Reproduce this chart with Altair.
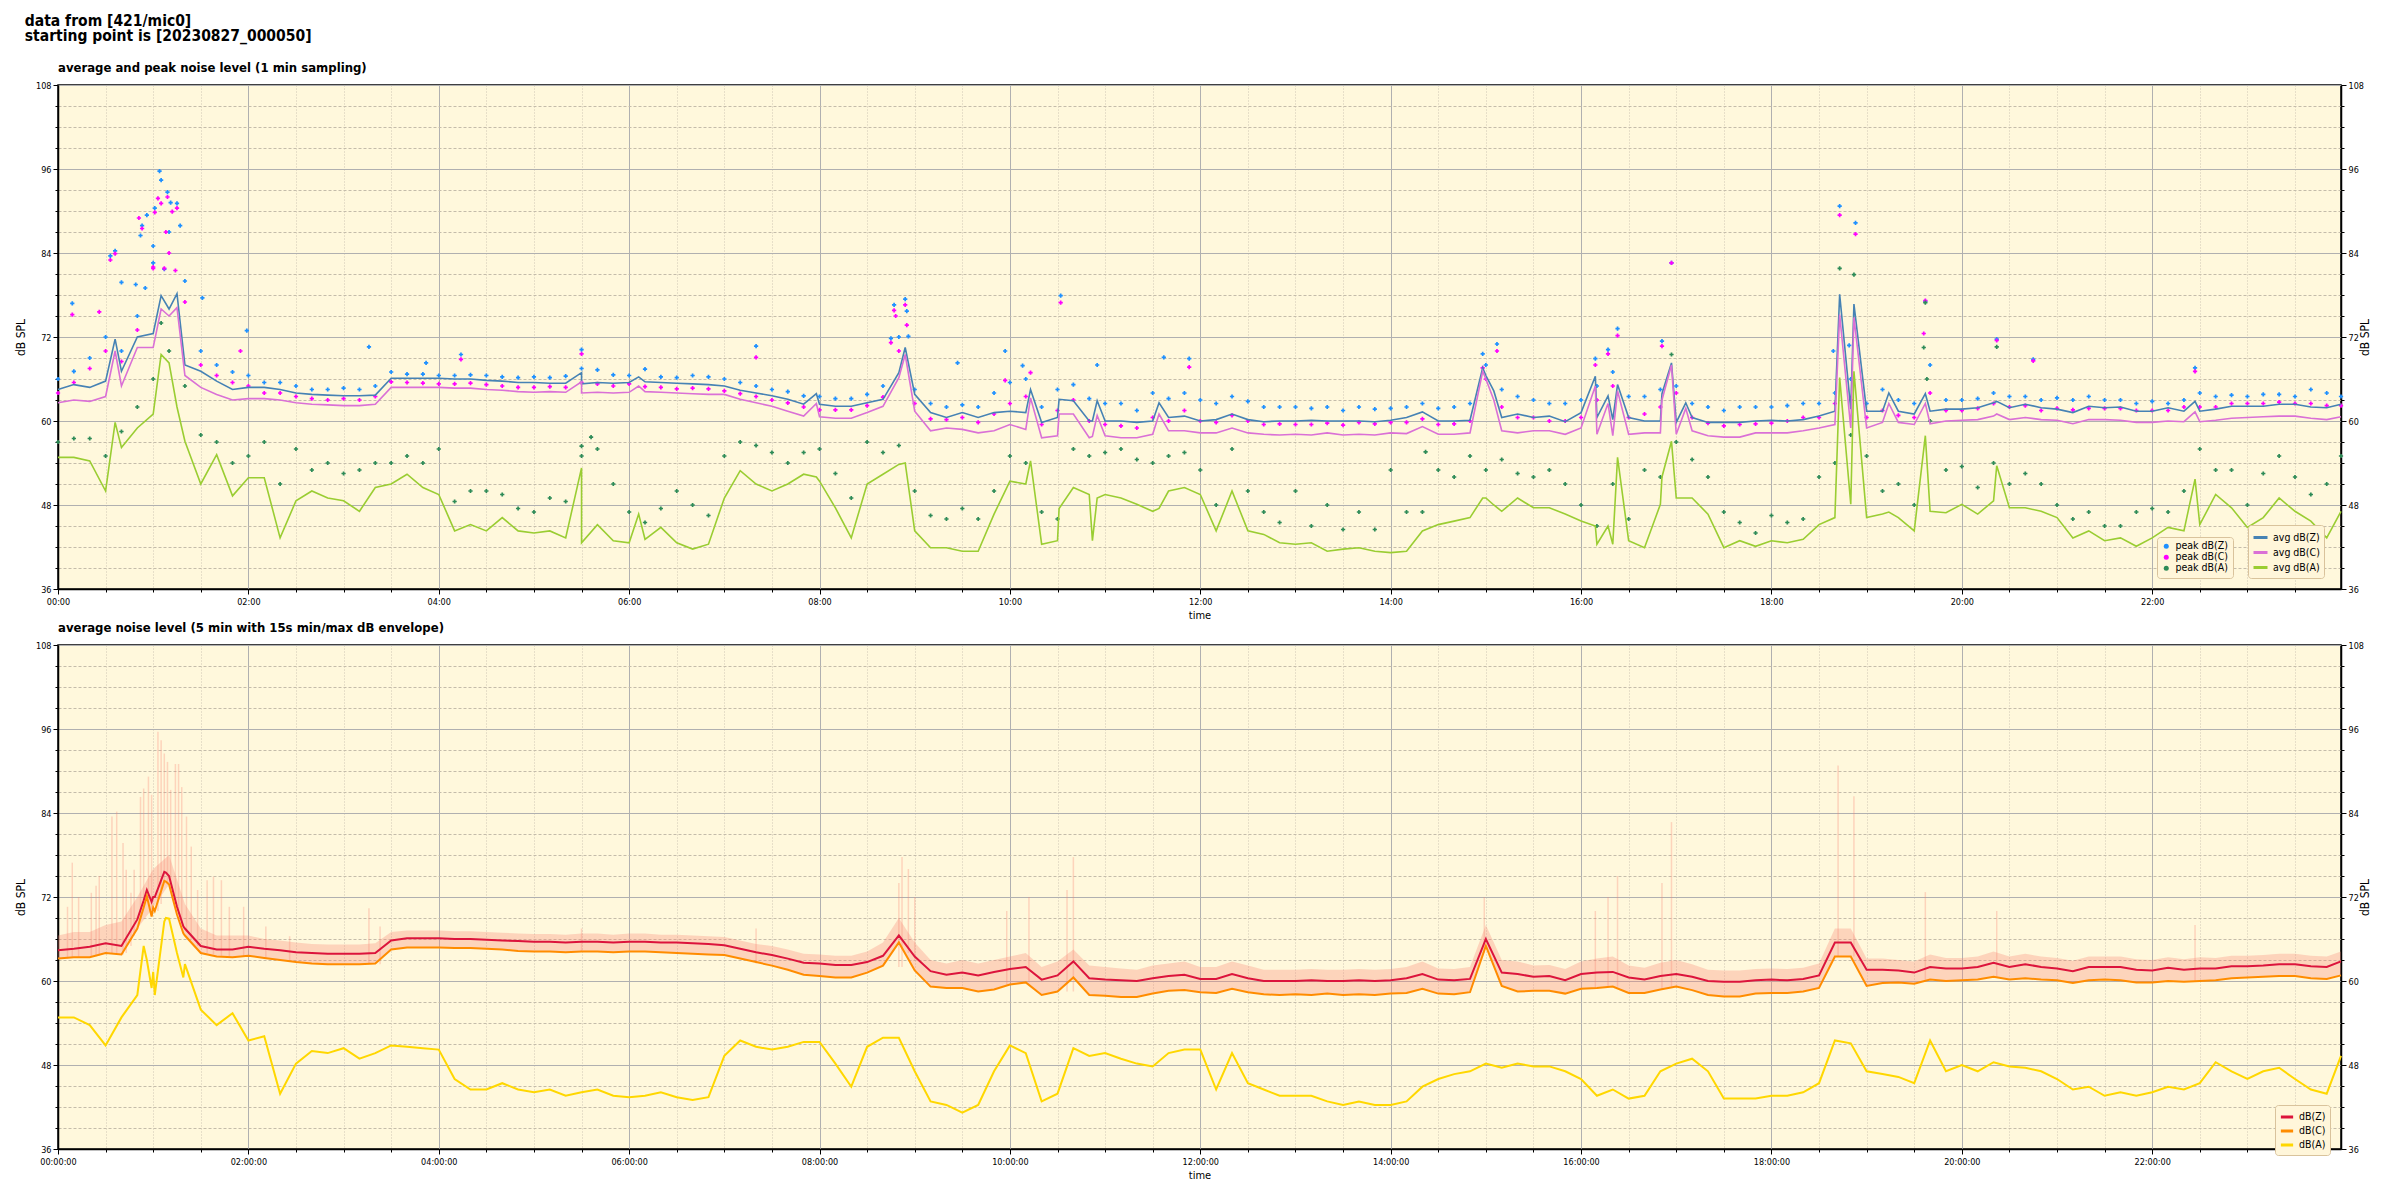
import altair as alt
import pandas as pd

FONT = "Liberation Sans Narrow, DejaVu Sans Condensed, DejaVu Sans, sans-serif"
BG = "#FFF8DC"

# ---------------- sample times (minutes after 00:00) ----------------
grid_min = list(range(0, 1440, 10)) + [1439]

# ---------------- top panel: 1-min averages (read every 10 min) ----------------
avg_z = [
    64.5, 65.2, 64.8, 65.7, 67.1, 72.0, 72.5, 76.0, 68.0, 67.1, 65.7, 64.5,
    64.8, 64.8, 64.5, 64.0, 63.8, 63.7, 63.6, 63.6, 63.7, 66.1, 66.1, 66.1,
    66.1, 66.0, 66.0, 65.8, 65.7, 65.5, 65.5, 65.4, 65.4, 65.3, 65.5, 65.4,
    65.5, 65.6, 65.5, 65.4, 65.3, 65.2, 65.0, 64.4, 64.0, 63.6, 63.1, 62.4,
    62.4, 62.1, 62.1, 62.6, 63.1, 66.9, 63.8, 61.2, 60.5, 61.2, 60.5, 61.2,
    61.4, 61.2, 59.8, 60.5, 62.9, 60.0, 60.0, 60.0, 59.8, 60.0, 60.5, 60.7,
    60.0, 60.2, 61.0, 60.2, 59.9, 60.0, 60.0, 60.1, 60.0, 60.0, 60.0, 59.9,
    60.1, 60.5, 61.3, 60.0, 60.0, 60.1, 66.5, 60.5, 61.0, 60.5, 60.7, 59.9,
    61.2, 60.5, 60.2, 60.5, 60.0, 60.0, 59.8, 60.5, 59.8, 59.8, 59.8, 60.0,
    60.1, 60.0, 60.2, 60.7, 61.4, 61.7, 61.4, 61.4, 61.4, 61.0, 61.4, 61.7,
    61.7, 61.9, 62.6, 61.9, 62.4, 61.9, 61.7, 61.2, 62.1, 61.9, 62.0, 61.4,
    61.4, 61.9, 61.4, 61.4, 61.7, 62.1, 62.1, 62.1, 62.4, 62.4, 62.0, 61.9,
    62.4]
avg_c = [
    62.6, 63.0, 62.8, 63.5, 65.0, 70.5, 70.5, 75.0, 66.5, 64.8, 63.8, 63.0,
    63.2, 63.2, 63.0, 62.6, 62.4, 62.3, 62.2, 62.2, 62.4, 64.8, 64.8, 64.8,
    64.8, 64.7, 64.7, 64.5, 64.4, 64.2, 64.1, 64.2, 64.1, 64.0, 64.1, 64.0,
    64.1, 64.2, 64.1, 64.0, 63.9, 63.8, 63.8, 63.1, 62.6, 62.1, 61.4, 60.7,
    60.6, 60.4, 60.4, 61.2, 62.1, 66.2, 61.4, 58.6, 59.0, 58.8, 58.3, 58.6,
    59.5, 58.8, 57.6, 57.9, 61.0, 57.6, 57.9, 57.6, 57.6, 58.1, 58.6, 58.6,
    58.3, 58.3, 59.0, 58.3, 58.1, 58.0, 58.1, 58.0, 58.3, 58.0, 58.1, 58.0,
    58.3, 58.2, 59.2, 58.1, 58.1, 58.3, 66.0, 58.6, 58.3, 58.6, 58.6, 58.1,
    59.0, 58.1, 57.9, 58.1, 58.3, 58.3, 58.1, 58.6, 57.9, 57.7, 57.7, 58.3,
    58.3, 58.3, 58.6, 59.0, 59.5, 59.0, 59.0, 59.8, 59.8, 59.5, 59.6, 60.0,
    60.1, 60.2, 60.7, 60.2, 60.5, 60.2, 60.1, 59.6, 60.2, 60.2, 60.1, 59.8,
    59.8, 60.0, 59.9, 59.9, 60.1, 60.4, 60.5, 60.6, 60.7, 60.7, 60.4, 60.2,
    60.6]
avg_a = [
    54.8, 54.8, 54.3, 50.0, 56.2, 59.0, 61.0, 68.3, 57.1, 51.0, 55.2, 49.3,
    51.9, 51.9, 43.3, 48.6, 50.0, 49.0, 48.6, 47.1, 50.5, 51.0, 52.4, 50.5,
    49.5, 44.3, 45.2, 44.3, 46.2, 44.3, 44.0, 44.3, 43.3, 42.6, 45.2, 42.9,
    42.6, 43.1, 44.8, 42.6, 41.7, 42.4, 49.0, 52.9, 51.0, 50.0, 51.0, 52.4,
    51.4, 47.6, 43.3, 51.0, 52.4, 53.8, 44.3, 41.9, 41.9, 41.4, 41.4, 46.7,
    51.4, 51.0, 42.4, 42.9, 50.5, 49.5, 49.5, 49.0, 48.1, 47.1, 50.0, 50.5,
    49.5, 44.3, 50.0, 44.3, 43.8, 42.6, 42.4, 42.6, 41.4, 41.7, 41.9, 41.4,
    41.2, 41.4, 44.3, 45.2, 45.7, 46.2, 49.0, 47.1, 49.0, 47.6, 47.6, 46.7,
    45.7, 42.4, 42.4, 42.9, 41.9, 48.1, 49.0, 49.0, 46.7, 41.9, 42.9, 42.1,
    42.9, 42.6, 43.1, 45.2, 46.2, 48.1, 46.2, 46.7, 46.2, 44.3, 47.1, 46.9,
    48.1, 46.7, 48.6, 47.6, 47.6, 47.1, 46.2, 43.3, 44.3, 42.9, 43.3, 42.1,
    43.3, 44.8, 44.3, 45.2, 49.5, 47.6, 44.8, 46.2, 49.0, 47.1, 45.7, 43.3,
    47.1]

# short spikes between the 10-min readings (minute, Z, C, A)
spike_min = [36, 65, 75, 330, 366, 478, 534, 613, 631, 652, 655, 694, 898, 905,
             969, 977, 983, 1011, 1017, 1026, 1123, 1132, 1154, 1177, 1222, 1347]
spike_z = [71.7, 77.9, 78.2, 66.9, 66.3, 63.9, 70.5, 64.5, 63.1, 60.0, 62.9, 62.6, 67.6, 64.3,
           66.4, 63.6, 65.2, 63.9, 68.3, 62.6, 78.1, 76.7, 64.0, 63.9, 62.8, 62.8]
spike_c = [70.0, 76.0, 76.2, 65.6, 65.0, 62.5, 69.5, 63.3, 61.0, 57.8, 60.8, 61.0, 67.1, 63.0,
           65.0, 62.5, 64.3, 63.0, 68.0, 61.8, 75.2, 74.8, 62.5, 62.5, 61.0, 61.3]
spike_a = [59.8, 69.5, 62.0, 53.3, 46.7, 52.0, 54.0, 54.3, 47.5, 42.9, 49.0, 47.5, 49.0, 48.0,
           45.0, 45.0, 54.8, 52.0, 57.1, 49.0, 66.2, 67.1, 47.0, 57.9, 53.6, 51.7]

# 1-min peaks (read every 10 min) plus the outlying dots
peak_z = [
    66.0, 67.1, 69.0, 72.0, 70.0, 75.0, 85.0, 87.0, 80.0, 70.0, 68.0, 67.0,
    66.5, 65.5, 65.5, 65.0, 64.5, 64.5, 64.7, 64.5, 65.0, 67.0, 66.7, 66.7,
    66.5, 66.5, 66.6, 66.5, 66.3, 66.2, 66.3, 66.2, 66.4, 67.5, 67.3, 66.6,
    66.5, 67.4, 66.3, 66.2, 66.5, 66.3, 66.0, 65.5, 65.0, 64.5, 64.2, 63.6,
    63.5, 63.2, 63.2, 63.8, 65.0, 72.0, 64.5, 62.5, 62.0, 62.3, 62.0, 64.0,
    65.5, 66.0, 62.0, 64.5, 65.2, 63.2, 62.5, 62.5, 61.5, 64.0, 63.2, 64.0,
    63.0, 62.5, 63.5, 62.8, 62.0, 62.0, 62.0, 61.8, 62.0, 61.5, 62.0, 61.7,
    61.8, 62.0, 62.5, 61.8, 62.0, 62.5, 68.0, 64.5, 63.5, 63.0, 62.5, 62.5,
    63.0, 65.0, 67.0, 63.5, 63.5, 64.5, 65.0, 62.5, 62.0, 61.5, 62.0, 62.0,
    62.0, 62.2, 62.5, 62.5, 64.0, 66.0, 62.5, 64.5, 63.0, 62.5, 68.0, 63.0,
    63.0, 63.2, 64.0, 63.5, 63.5, 63.0, 63.3, 63.0, 63.5, 63.0, 63.0, 62.5,
    62.8, 62.5, 63.0, 64.0, 63.5, 63.7, 63.5, 63.8, 63.8, 63.5, 64.5, 64.0,
    63.5]
peak_c = [
    64.0, 65.5, 67.5, 70.0, 68.5, 73.0, 82.0, 84.0, 77.0, 68.0, 66.5, 65.5,
    65.0, 64.0, 64.0, 63.5, 63.2, 63.0, 63.2, 63.0, 63.5, 65.6, 65.5, 65.4,
    65.3, 65.3, 65.4, 65.2, 65.0, 64.8, 64.8, 64.9, 64.8, 65.5, 65.3, 65.0,
    65.3, 64.9, 64.8, 64.6, 64.7, 64.6, 64.3, 63.9, 63.5, 63.0, 62.6, 62.0,
    61.6, 61.6, 61.6, 62.2, 63.4, 70.0, 62.5, 60.3, 60.2, 60.5, 59.8, 61.0,
    62.5, 63.5, 59.5, 61.5, 63.0, 60.0, 59.5, 59.3, 59.0, 60.5, 60.0, 61.5,
    60.0, 59.8, 60.8, 60.0, 59.5, 59.6, 59.5, 59.5, 59.7, 59.4, 59.8, 59.6,
    59.8, 59.8, 60.3, 59.5, 59.6, 60.0, 66.0, 62.0, 60.5, 60.5, 60.0, 60.0,
    60.5, 63.0, 65.0, 60.5, 61.0, 62.0, 64.0, 60.5, 59.7, 59.3, 59.5, 59.6,
    59.7, 60.0, 60.5, 60.5, 62.5, 63.0, 60.5, 61.5, 60.8, 60.5, 64.0, 61.5,
    61.5, 61.8, 62.5, 62.0, 62.2, 61.5, 61.8, 61.6, 61.8, 61.8, 61.8, 61.5,
    61.5, 61.5, 62.0, 62.0, 62.0, 62.5, 62.5, 62.5, 62.7, 62.5, 62.5, 62.2,
    62.2]
peak_a = [
    57.0, 57.5, 57.5, 55.0, 58.5, 62.0, 66.0, 70.0, 65.0, 58.0, 57.0, 54.0,
    55.0, 57.0, 51.0, 56.0, 53.0, 54.0, 52.5, 53.0, 54.0, 54.0, 55.0, 54.0,
    56.0, 48.5, 50.0, 50.0, 49.5, 47.5, 47.0, 49.0, 48.5, 55.0, 56.0, 51.0,
    47.0, 45.5, 47.5, 50.0, 48.0, 46.5, 55.0, 57.0, 56.5, 55.5, 54.0, 55.5,
    56.0, 52.5, 49.0, 57.0, 55.5, 56.5, 50.0, 46.5, 46.0, 47.5, 46.0, 50.0,
    55.0, 54.0, 47.0, 46.0, 56.0, 55.0, 55.5, 56.0, 54.5, 54.0, 55.0, 55.5,
    53.0, 48.0, 56.0, 50.0, 47.0, 45.5, 50.0, 45.0, 48.0, 44.5, 47.0, 44.5,
    53.0, 47.0, 47.0, 53.0, 52.0, 55.0, 53.0, 54.5, 52.5, 52.0, 53.0, 51.0,
    48.0, 45.0, 51.0, 46.0, 53.0, 52.0, 57.0, 54.5, 52.0, 47.0, 45.5, 44.0,
    46.5, 45.5, 46.0, 52.0, 54.0, 58.0, 55.0, 50.0, 51.0, 48.0, 60.0, 53.0,
    53.5, 50.5, 54.0, 51.0, 52.5, 51.0, 48.0, 46.0, 47.0, 45.0, 45.0, 47.0,
    47.5, 47.0, 50.0, 56.0, 53.0, 53.0, 48.0, 52.5, 55.0, 52.0, 49.5, 51.0,
    55.0]
pz_out_min = [9, 64, 65, 69, 61, 71, 75, 56, 53, 77, 52, 36, 33, 60, 67, 40, 49, 55, 91, 119,
              196, 254, 232, 330, 440, 527, 534, 535, 536, 525, 567, 597, 608, 632, 655, 697,
              713, 898, 907, 969, 977, 983, 1011, 1017, 1119, 1123, 1133, 1129, 1177, 1222,
              1245, 1347]
pz_out_val = [76.8, 95.7, 94.4, 92.7, 90.4, 91.2, 91.1, 89.4, 87.9, 87.9, 86.5, 84.3, 83.6, 82.6,
              81.7, 79.8, 79.5, 79.0, 77.6, 72.9, 70.6, 69.5, 68.3, 70.2, 70.7, 76.6, 77.4, 75.7,
              72.1, 71.8, 68.3, 70.0, 67.9, 77.9, 68.0, 69.1, 68.9, 69.6, 71.0, 68.9, 70.2, 73.2,
              71.4, 82.6, 70.0, 90.7, 88.3, 70.8, 77.1, 71.7, 68.8, 67.6]
pc_out_min = [9, 26, 63, 65, 69, 61, 72, 75, 53, 51, 33, 36, 60, 67, 74, 68, 115, 254, 330, 440,
              527, 534, 528, 535, 525, 597, 613, 632, 713, 898, 907, 969, 977, 983, 1011, 1017,
              1123, 1133, 1177, 1176, 1222, 1245, 1347]
pc_out_val = [75.2, 75.6, 91.8, 91.1, 92.0, 89.8, 89.9, 90.4, 87.5, 89.0, 83.0, 83.9, 81.8, 81.8,
              81.5, 87.0, 70.0, 68.8, 69.6, 69.1, 75.8, 76.6, 75.0, 73.7, 71.2, 65.8, 66.9, 76.9,
              67.7, 67.6, 70.0, 68.0, 69.6, 72.2, 70.7, 82.6, 89.4, 86.7, 77.2, 72.5, 71.5, 68.6,
              67.1]
pa_out_min = [65, 330, 336, 862, 1017, 1123, 1132, 1177, 1176, 1178, 1222]
pa_out_val = [74.0, 56.4, 57.7, 55.6, 69.5, 81.8, 80.9, 76.9, 70.5, 66.0, 70.6]

# ---------------- bottom panel: 5-min averages (read every 10 min) ----------------
bot_z = [
    64.4, 64.6, 64.9, 65.4, 65.0, 68.8, 72.0, 75.0, 67.5, 65.0, 64.5, 64.5,
    64.9, 64.6, 64.4, 64.1, 64.0, 63.9, 63.9, 63.9, 64.0, 65.8, 66.1, 66.1,
    66.1, 66.0, 66.0, 65.9, 65.8, 65.7, 65.6, 65.6, 65.5, 65.6, 65.6, 65.5,
    65.6, 65.6, 65.5, 65.5, 65.4, 65.3, 65.1, 64.6, 64.1, 63.7, 63.2, 62.6,
    62.5, 62.3, 62.3, 62.7, 63.6, 66.5, 63.5, 61.4, 60.9, 61.2, 60.8, 61.3,
    61.7, 62.0, 60.2, 60.8, 62.8, 60.4, 60.2, 60.1, 60.0, 60.4, 60.7, 60.9,
    60.3, 60.3, 61.0, 60.4, 60.0, 60.0, 60.0, 60.1, 60.0, 60.0, 60.1, 60.0,
    60.1, 60.4, 61.0, 60.2, 60.1, 60.3, 66.0, 61.2, 61.0, 60.6, 60.7, 60.1,
    61.0, 61.2, 61.3, 60.5, 60.2, 60.7, 61.0, 60.6, 60.0, 59.9, 59.9, 60.1,
    60.2, 60.1, 60.3, 60.8, 65.5, 65.5, 61.6, 61.6, 61.5, 61.2, 62.0, 61.8,
    61.8, 62.0, 62.6, 62.0, 62.4, 62.0, 61.8, 61.4, 62.0, 62.0, 62.0, 61.6,
    61.5, 61.9, 61.6, 61.8, 61.8, 62.1, 62.1, 62.2, 62.4, 62.4, 62.1, 62.0,
    62.8]
bot_c = [
    63.2, 63.4, 63.4, 64.0, 63.8, 67.5, 70.5, 73.8, 66.5, 64.0, 63.5, 63.4,
    63.6, 63.3, 63.0, 62.7, 62.5, 62.4, 62.4, 62.4, 62.5, 64.5, 64.8, 64.8,
    64.8, 64.7, 64.7, 64.6, 64.5, 64.3, 64.2, 64.2, 64.1, 64.2, 64.2, 64.1,
    64.2, 64.2, 64.1, 64.0, 63.9, 63.8, 63.7, 63.2, 62.7, 62.2, 61.6, 60.9,
    60.7, 60.5, 60.5, 61.2, 62.2, 65.5, 61.5, 59.2, 59.0, 59.0, 58.5, 58.8,
    59.5, 59.8, 58.0, 58.5, 60.5, 58.0, 57.9, 57.7, 57.7, 58.2, 58.6, 58.7,
    58.4, 58.3, 58.9, 58.4, 58.1, 58.0, 58.1, 58.0, 58.2, 58.0, 58.1, 58.0,
    58.2, 58.3, 58.9, 58.2, 58.1, 58.4, 65.0, 59.3, 58.5, 58.6, 58.6, 58.2,
    58.9, 59.0, 59.2, 58.3, 58.3, 58.8, 59.2, 58.7, 58.0, 57.8, 57.8, 58.2,
    58.3, 58.3, 58.5, 59.0, 63.5, 63.5, 59.3, 59.7, 59.8, 59.6, 60.2, 60.0,
    60.1, 60.2, 60.6, 60.2, 60.4, 60.2, 60.1, 59.7, 60.1, 60.2, 60.1, 59.8,
    59.8, 60.0, 59.9, 60.0, 60.1, 60.4, 60.5, 60.6, 60.7, 60.7, 60.4, 60.3,
    60.8]
bot_a = [
    54.8, 54.8, 53.7, 50.8, 54.8, 58.0, 61.3, 68.9, 62.4, 55.9, 53.7, 55.4,
    51.5, 52.1, 43.9, 48.2, 50.0, 49.7, 50.4, 48.9, 49.7, 50.8, 50.6, 50.4,
    50.2, 46.0, 44.5, 44.5, 45.4, 44.5, 44.1, 44.5, 43.6, 44.1, 44.5, 43.6,
    43.4, 43.6, 44.1, 43.4, 43.0, 43.4, 49.3, 51.5, 50.6, 50.2, 50.6, 51.3,
    51.3, 48.2, 44.9, 50.6, 51.9, 51.9, 47.1, 42.8, 42.3, 41.2, 42.3, 47.1,
    50.8, 49.7, 42.8, 43.9, 50.4, 49.3, 49.7, 48.9, 48.2, 47.8, 49.7, 50.2,
    50.2, 44.5, 49.7, 45.4, 44.5, 43.6, 43.6, 43.6, 42.8, 42.3, 42.8, 42.3,
    42.3, 42.8, 44.9, 46.0, 46.7, 47.1, 48.2, 47.6, 48.2, 47.8, 47.8, 47.1,
    46.0, 43.6, 44.5, 43.2, 43.6, 47.1, 48.2, 48.9, 47.1, 43.2, 43.2, 43.2,
    43.6, 43.6, 44.1, 45.4, 51.5, 51.1, 47.1, 46.7, 46.3, 45.4, 51.5, 47.1,
    48.0, 47.1, 48.4, 47.8, 47.6, 47.1, 46.0, 44.5, 44.9, 43.6, 44.1, 43.6,
    44.1, 44.9, 44.5, 45.4, 48.4, 47.1, 46.0, 47.1, 47.6, 46.0, 44.5, 43.9,
    49.3]
bx_min = [54, 56, 59, 61, 67, 68, 75, 79]
bx_z = [71.5, 73.0, 71.3, 72.0, 75.6, 75.5, 70.6, 67.8]
bx_c = [70.5, 72.1, 69.2, 70.0, 74.3, 74.2, 69.5, 66.8]
bx_a = [65.0, 63.0, 59.0, 58.0, 68.5, 69.0, 64.0, 60.5]

# upper edge of the 15 s min/max envelope (lower edge follows dB(C))
env_hi = [
    66.5, 67.0, 67.0, 68.0, 68.5, 72.0, 76.0, 78.0, 71.0, 67.5, 66.5, 66.5,
    66.5, 66.0, 65.8, 65.5, 65.3, 65.2, 65.2, 65.2, 65.4, 67.0, 67.2, 67.2,
    67.2, 67.1, 67.1, 67.0, 66.9, 66.8, 66.7, 66.7, 66.6, 66.8, 66.8, 66.6,
    66.8, 66.8, 66.6, 66.6, 66.5, 66.4, 66.3, 65.8, 65.3, 65.0, 64.5, 63.9,
    63.8, 63.6, 63.6, 64.2, 65.5, 69.0, 65.5, 63.0, 62.5, 63.0, 62.5, 63.0,
    63.5, 64.0, 62.0, 62.8, 64.5, 62.2, 62.0, 61.8, 61.6, 62.2, 62.5, 62.8,
    62.0, 62.0, 62.8, 62.2, 61.6, 61.6, 61.6, 61.7, 61.6, 61.6, 61.7, 61.6,
    61.7, 62.0, 62.8, 61.8, 61.7, 62.0, 68.0, 63.0, 62.8, 62.2, 62.3, 61.7,
    62.8, 63.2, 63.5, 62.2, 61.9, 62.6, 63.0, 62.4, 61.6, 61.5, 61.5, 61.7,
    61.8, 61.7, 61.9, 62.5, 67.5, 67.5, 63.2, 63.2, 63.0, 62.8, 63.8, 63.3,
    63.3, 63.5, 64.2, 63.5, 63.9, 63.5, 63.3, 62.9, 63.5, 63.5, 63.5, 63.1,
    63.0, 63.4, 63.1, 63.4, 63.3, 63.6, 63.6, 63.7, 63.9, 63.9, 63.6, 63.5,
    64.2]
env_sp_min = [6, 9, 13, 21, 24, 26, 34, 37, 41, 43, 46, 48, 52, 54, 57, 59, 63, 65, 67, 69, 71,
              74, 76, 78, 81, 84, 88, 94, 98, 103, 108, 117, 131, 146, 196, 203, 330, 440, 530,
              532, 536, 540, 598, 612, 636, 640, 899, 969, 977, 983, 1011, 1017, 1122, 1132,
              1177, 1222, 1347]
env_sp_hi = [70.6, 76.9, 72.0, 72.6, 73.6, 75.0, 83.5, 84.2, 79.7, 75.9, 72.6, 75.9, 86.3, 87.5,
             89.2, 86.6, 95.6, 94.4, 92.5, 91.3, 87.3, 91.0, 91.0, 87.7, 83.5, 79.2, 73.0, 74.4,
             74.9, 74.4, 70.6, 70.6, 67.8, 66.4, 70.4, 67.8, 67.5, 67.5, 74.0, 77.7, 76.0, 72.0,
             70.0, 72.0, 73.0, 77.7, 72.0, 70.0, 72.0, 75.0, 74.0, 82.7, 90.8, 86.4, 72.7, 70.0,
             68.0]
env_sp_lo = [63.2, 63.3, 63.3, 63.4, 63.5, 63.6, 64.0, 64.0, 63.8, 64.0, 65.0, 66.5, 69.0, 70.5,
             72.0, 69.2, 70.0, 71.0, 74.3, 74.0, 73.5, 71.0, 69.5, 68.0, 67.0, 66.0, 65.0, 64.0,
             63.8, 63.6, 63.5, 63.5, 63.3, 63.0, 62.4, 62.4, 64.2, 62.5, 62.0, 62.0, 64.0, 63.0,
             59.5, 59.8, 58.5, 58.5, 64.0, 59.0, 59.2, 59.2, 58.8, 59.2, 63.5, 63.5, 60.2, 60.6,
             60.0]

# ---------------- tables ----------------
DAY = pd.Timestamp("2023-08-27")


def table(minutes, **cols):
    d = pd.DataFrame({"minute": minutes, **cols})
    d["time"] = DAY + pd.to_timedelta(d["minute"], unit="m")
    return d.sort_values("minute").reset_index(drop=True)


top_avg = table(grid_min + spike_min, z=avg_z + spike_z, c=avg_c + spike_c, a=avg_a + spike_a)
bot = table(grid_min + bx_min, z=bot_z + bx_z, c=bot_c + bx_c, a=bot_a + bx_a)
env = table(grid_min, lo=bot_c, hi=env_hi)
env_sp = table(env_sp_min, lo=env_sp_lo, hi=env_sp_hi)


def series_df(df, col, name):
    return pd.DataFrame({"time": df["time"], "value": df[col], "series": name})


pk_z = series_df(table(grid_min + pz_out_min, v=peak_z + pz_out_val), "v", "peak dB(Z)")
pk_c = series_df(table(grid_min + pc_out_min, v=peak_c + pc_out_val), "v", "peak dB(C)")
pk_a = series_df(table(grid_min + pa_out_min, v=peak_a + pa_out_val), "v", "peak dB(A)")
av_z = series_df(top_avg, "z", "avg dB(Z)")
av_c = series_df(top_avg, "c", "avg dB(C)")
av_a = series_df(top_avg, "a", "avg dB(A)")
b_z = series_df(bot, "z", "dB(Z)")
b_c = series_df(bot, "c", "dB(C)")
b_a = series_df(bot, "a", "dB(A)")

PEAK_NAMES = ["peak dB(Z)", "peak dB(C)", "peak dB(A)"]
PEAK_COLORS = ["#1E90FF", "#FF00FF", "#2E8B57"]
AVG_NAMES = ["avg dB(Z)", "avg dB(C)", "avg dB(A)"]
AVG_COLORS = ["#4682B4", "#DA70D6", "#9ACD32"]
BOT_NAMES = ["dB(Z)", "dB(C)", "dB(A)"]
BOT_COLORS = ["#DC143C", "#FF8C00", "#FFD700"]

# ---------------- scales and axes ----------------
W, H = 2283, 504
xscale = alt.Scale(domain=[alt.DateTime(year=2023, month=8, date=27, hours=0),
                           alt.DateTime(year=2023, month=8, date=27, hours=23, minutes=59)])
yscale = alt.Scale(domain=[36, 108], nice=False, zero=False)

major_hours = [alt.DateTime(year=2023, month=8, date=27, hours=h) for h in range(0, 24, 2)]
minor_times = [alt.DateTime(year=2023, month=8, date=27, hours=h, minutes=m)
               for h in range(24) for m in (0, 30) if not (m == 0 and h % 2 == 0)]
y_major = [36, 48, 60, 72, 84, 96, 108]
y_minor = [v for v in range(39, 108, 3) if v % 12 != 0]

GRID = "#b0b0b0"


def x_major(fmt):
    return alt.Axis(values=major_hours, orient="bottom", format=fmt, title="time", grid=True,
                    gridColor=GRID, gridWidth=1, tickSize=5, tickColor="black", domain=True,
                    domainColor="black", domainWidth=1.5, labelFont=FONT, labelFontSize=9,
                    labelColor="black", labelFlush=False, labelOverlap=False, labelPadding=3,
                    titleFont=FONT, titleFontSize=11, titleFontWeight="normal",
                    titleColor="black", titlePadding=3, offset=0)


x_minor = alt.Axis(values=minor_times, orient="bottom", labels=False, title=None, grid=True,
                   gridColor="#cfc7b5", gridDash=[1, 2], gridWidth=1, tickSize=3,
                   tickColor="black", domain=False, offset=0)
y_left_major = alt.Axis(values=y_major, orient="left", title="dB SPL", grid=True, gridColor=GRID,
                        gridWidth=1, tickSize=5, tickColor="black", domain=True,
                        domainColor="black", domainWidth=1.5, labelFont=FONT, labelFontSize=9,
                        labelColor="black", labelPadding=2, titleFont=FONT, titleFontSize=12,
                        titleFontWeight="normal", titleColor="black", titlePadding=8, offset=0)
y_left_minor = alt.Axis(values=y_minor, orient="left", labels=False, title=None, grid=True,
                        gridColor="#c4bcaa", gridDash=[3, 2], gridWidth=1, tickSize=3,
                        tickColor="black", domain=False, offset=0)
y_right_major = alt.Axis(values=y_major, orient="right", title="dB SPL", grid=False, tickSize=5,
                         tickColor="black", domain=True, domainColor="black", domainWidth=1.5,
                         labelFont=FONT, labelFontSize=9, labelColor="black", labelPadding=2,
                         titleFont=FONT, titleFontSize=12, titleFontWeight="normal",
                         titleColor="black", titleAngle=270, titlePadding=8, offset=0)
y_right_minor = alt.Axis(values=y_minor, orient="right", labels=False, title=None, grid=False,
                         tickSize=3, tickColor="black", domain=False, offset=0)


def legend(x, y, stype, size, sw):
    return alt.Legend(title=None, orient="none", legendX=x, legendY=y, symbolType=stype,
                      symbolSize=size, symbolStrokeWidth=sw, labelFont=FONT, labelFontSize=10.5,
                      labelColor="black", fillColor="#FFF6DA", strokeColor="#D9C39C",
                      padding=4, rowPadding=0, cornerRadius=3, labelLimit=300)


peak_leg = legend(2099, 452, "circle", 25, 0)
avg_leg = legend(2190, 440, "stroke", 196, 3)
bot_leg = legend(2217, 460, "stroke", 150, 3)


def peak_layer(df, xa, ya):
    return alt.Chart(df).mark_point(shape="cross", filled=True, size=18, opacity=1,
                                    strokeWidth=0).encode(
        x=alt.X("time:T", scale=xscale, axis=xa),
        y=alt.Y("value:Q", scale=yscale, axis=ya),
        fill=alt.Fill("series:N", scale=alt.Scale(domain=PEAK_NAMES, range=PEAK_COLORS),
                      legend=peak_leg))


def line_layer(df, xa, ya, names, colors, leg, width):
    return alt.Chart(df).mark_line(strokeWidth=width).encode(
        x=alt.X("time:T", scale=xscale, axis=xa),
        y=alt.Y("value:Q", scale=yscale, axis=ya),
        stroke=alt.Stroke("series:N", scale=alt.Scale(domain=names, range=colors), legend=leg))


def sub_title(text):
    return alt.TitleParams(text, anchor="start", frame="group", font=FONT, fontSize=13,
                           fontWeight="bold", color="black", offset=6)


top = alt.layer(
    peak_layer(pk_z, x_minor, y_left_minor),
    peak_layer(pk_c, None, y_right_minor),
    peak_layer(pk_a, None, None),
    line_layer(av_z, x_major("%H:%M"), y_left_major, AVG_NAMES, AVG_COLORS, avg_leg, 1.6),
    line_layer(av_c, None, y_right_major, AVG_NAMES, AVG_COLORS, avg_leg, 1.6),
    line_layer(av_a, None, None, AVG_NAMES, AVG_COLORS, avg_leg, 1.6),
).resolve_axis(x="independent", y="independent").properties(
    width=W, height=H, title=sub_title("average and peak noise level (1 min sampling)"))

env_area = alt.Chart(env).mark_area(color="#FA8072", opacity=0.3).encode(
    x=alt.X("time:T", scale=xscale, axis=x_minor),
    y=alt.Y("lo:Q", scale=yscale, axis=y_left_minor),
    y2="hi:Q")
env_rules = alt.Chart(env_sp).mark_rule(color="#FA8072", opacity=0.3, strokeWidth=1.5).encode(
    x=alt.X("time:T", scale=xscale, axis=None),
    y=alt.Y("lo:Q", scale=yscale, axis=y_right_minor),
    y2="hi:Q")

bottom = alt.layer(
    env_area,
    env_rules,
    line_layer(b_z, x_major("%H:%M:%S"), y_left_major, BOT_NAMES, BOT_COLORS, bot_leg, 2),
    line_layer(b_c, None, y_right_major, BOT_NAMES, BOT_COLORS, bot_leg, 2),
    line_layer(b_a, None, None, BOT_NAMES, BOT_COLORS, bot_leg, 2),
).resolve_axis(x="independent", y="independent").properties(
    width=W, height=H,
    title=sub_title("average noise level (5 min with 15s min/max dB envelope)"))

chart = alt.vconcat(
    top, bottom, spacing=0,
    title=alt.TitleParams(["data from [421/mic0]", "starting point is [20230827_000050]"],
                          anchor="start", font=FONT, fontSize=15.5, fontWeight="bold",
                          color="black", lineHeight=15, dx=11, offset=17),
).resolve_scale(fill="independent", stroke="independent").configure_view(
    fill=BG, stroke="black", strokeWidth=1.5
).properties(background="white", padding={"left": 5, "top": 5, "right": 5, "bottom": 5})

chart.save("out.html", embed_options={"renderer": "svg", "actions": False})
